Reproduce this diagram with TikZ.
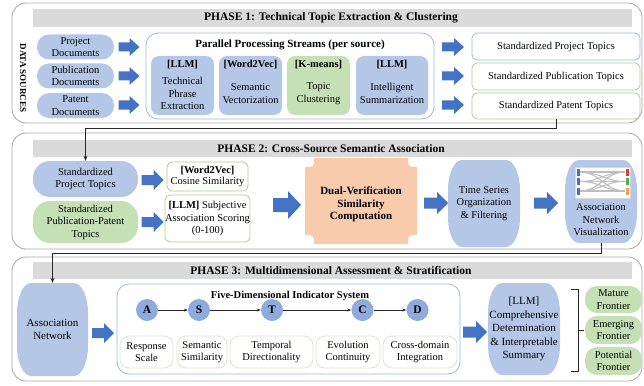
\documentclass[tikz,border=0pt]{standalone}
\usepackage{fontspec}
\setmainfont{Liberation Serif}
\usetikzlibrary{arrows.meta}

\definecolor{boxblue}{HTML}{B4C7E7}
\definecolor{boxgreen}{HTML}{C5E0B4}
\definecolor{boxorange}{HTML}{F8CBAD}
\definecolor{arrowblue}{HTML}{4472C4}
\definecolor{circblue}{HTML}{8FAADC}
\definecolor{hdrgray}{HTML}{DADADA}
\definecolor{framegray}{HTML}{A6A6A6}
\definecolor{lineblue}{HTML}{9DB5DF}
\definecolor{linegreen}{HTML}{A9D18E}
\definecolor{palegreen}{HTML}{D6E8CC}
\definecolor{barred}{HTML}{E03C3C}
\definecolor{bargreen}{HTML}{4CB050}
\definecolor{barorange}{HTML}{F0A050}

% thick block arrow: centre x, centre y, length, shaft half-height, head half-height, head length
\newcommand\blockarrow[6]{%
  \fill[arrowblue] ({#1-#3/2},{#2-#4}) -- ({#1+#3/2-#6},{#2-#4}) -- ({#1+#3/2-#6},{#2-#5})
    -- ({#1+#3/2},#2) -- ({#1+#3/2-#6},{#2+#5}) -- ({#1+#3/2-#6},{#2+#4})
    -- ({#1-#3/2},{#2+#4}) -- cycle;}

% barrel-shaped panel with elliptical corners: x1, y1, x2, y2
\newcommand\barrel[4]{%
  \fill[boxblue] ({#1+14},#2) -- ({#3-14},#2)
    .. controls ({#3-6.3},#2) and (#3,{#2+13.4}) .. (#3,{#2+30})
    -- (#3,{#4-30}) .. controls (#3,{#4-13.4}) and ({#3-6.3},#4) .. ({#3-14},#4)
    -- ({#1+14},#4) .. controls ({#1+6.3},#4) and (#1,{#4-13.4}) .. (#1,{#4-30})
    -- (#1,{#2+30}) .. controls (#1,{#2+13.4}) and ({#1+6.3},#2) .. ({#1+14},#2) -- cycle;}

\tikzset{
  phase/.style={draw=framegray, line width=0.8pt, rounded corners=14pt},
  ptitle/.style={font=\fontsize{11.5}{13}\selectfont\bfseries, inner sep=0pt},
  txt/.style={font=\fontsize{10.5}{12.5}\selectfont, align=center, inner sep=1pt},
  btxt/.style={font=\fontsize{10.5}{12.5}\selectfont\bfseries, align=center, inner sep=1pt},
  pill/.style={txt, fill=boxblue, rounded corners=12pt},
  procbox/.style={rounded corners=8pt, minimum width=63pt, minimum height=59pt, inner sep=0pt},
  stdbox/.style={txt, fill=white, rounded corners=5pt, line width=0.8pt, minimum width=168pt},
  drum/.style={txt, inner sep=0pt},
  whitebox/.style={txt, fill=white, draw=linegreen, line width=0.8pt, rounded corners=5pt, inner sep=0pt},
  circ/.style={circle, fill=circblue, minimum size=22pt, inner sep=0pt, font=\fontsize{11.5}{13}\selectfont\bfseries},
  lbl/.style={txt, draw=palegreen, line width=0.8pt, rounded corners=9pt, minimum height=32pt, inner sep=0pt},
  fpill/.style={txt, fill=boxgreen, rounded corners=12pt, minimum width=57pt, inner sep=0pt},
  conn/.style={draw=black!85, line width=0.8pt, -{Stealth[length=5pt,width=4pt]}},
  dimlink/.style={draw=black!85, line width=0.6pt, -{Stealth[length=4pt,width=3pt]}},
}

\begin{document}
\begin{tikzpicture}[x=1pt,y=-1pt]
\useasboundingbox (0,0) rectangle (644,385);

% ---------------- Phase 1 ----------------
\draw[phase] (12,3) rectangle (642,123);
\fill[hdrgray] (33,9) rectangle (632,27);
\node[ptitle] (t1) at (331,18) {PHASE 1: Technical Topic Extraction \& Clustering};
\node[font=\fontsize{9}{11}\selectfont\bfseries, rotate=-90, inner sep=0pt] (ds) at (23,78) {DATA SOURCES};

\node[pill, minimum width=77pt, minimum height=25pt] (srcP) at (75.5,47) {Project\\Documents};
\node[pill, minimum width=77pt, minimum height=25pt] (srcU) at (75.5,76) {Publication\\Documents};
\node[pill, minimum width=77pt, minimum height=25pt] (srcT) at (75.5,105.5) {Patent\\Documents};

\blockarrow{129}{47}{21}{4.5}{9}{10}
\blockarrow{129}{76}{21}{4.5}{9}{10}
\blockarrow{129}{105}{21}{4.5}{9}{10}

\node[draw=lineblue, line width=0.8pt, rounded corners=12pt, minimum width=288pt, minimum height=86pt, inner sep=0pt] (par) at (290,76) {};
\node[font=\fontsize{11}{13}\selectfont\bfseries, inner sep=0pt] (partitle) at (290,45) {Parallel Processing Streams (per source)};

\node[procbox, fill=boxblue] (pr1) at (182.5,85.5) {};
\node[procbox, fill=boxblue] (pr2) at (250.5,85.5) {};
\node[procbox, fill=boxgreen] (pr3) at (318.5,85.5) {};
\node[procbox, fill=boxblue, minimum width=72pt] (pr4) at (392,85.5) {};
\node[btxt] (pr1h) at (182.5,65) {[LLM]};
\node[btxt] (pr2h) at (250.5,65) {[Word2Vec]};
\node[btxt] (pr3h) at (318.5,65) {[K-means]};
\node[btxt] (pr4h) at (392,65) {[LLM]};
\node[txt] (pr1b) at (182.5,93.5) {Technical\\Phrase\\Extraction};
\node[txt] (pr2b) at (250.5,93.5) {Semantic\\Vectorization};
\node[txt] (pr3b) at (318.5,93.5) {Topic\\Clustering};
\node[txt] (pr4b) at (392,93.5) {Intelligent\\Summarization};

\blockarrow{453}{47}{22}{4.5}{9}{10}
\blockarrow{453}{76}{22}{4.5}{9}{10}
\blockarrow{453}{105}{22}{4.5}{9}{10}

\node[stdbox, draw=lineblue, minimum height=27pt] (std1) at (556,46.5) {Standardized Project Topics};
\node[stdbox, draw=linegreen, minimum height=27pt] (std2) at (556,76.5) {Standardized Publication Topics};
\node[stdbox, draw=linegreen, minimum height=26pt] (std3) at (556,106) {Standardized Patent Topics};

% ---------------- Phase 2 ----------------
\draw[phase] (12,133) rectangle (642,249);
\fill[hdrgray] (33,140) rectangle (632,157);
\node[ptitle] (t2) at (331,148.5) {PHASE 2: Cross-Source Semantic Association};

\node[pill, rounded corners=17pt, minimum width=105pt, minimum height=36pt] (sp) at (85.5,179) {Standardized\\Project Topics};
\node[pill, fill=boxgreen, rounded corners=17pt, minimum width=105pt, minimum height=42pt] (spp) at (85.5,222) {Standardized\\Publication-Patent\\Topics};

\blockarrow{152.5}{180}{22}{5}{10}{10}
\blockarrow{152.5}{222}{22}{5}{10}{10}

\node[whitebox, minimum width=81pt, minimum height=29pt, font=\fontsize{10.5}{11.5}\selectfont] (w2v) at (207.5,176.5) {\textbf{[Word2Vec]}\\Cosine Similarity};
\node[whitebox, minimum width=81pt, minimum height=47pt] (llms) at (207.5,218.5) {\textbf{[LLM]} Subjective\\Association Scoring\\(0-100)};

\blockarrow{287}{205}{28}{7}{14}{13}

\fill[boxorange] (314,158) -- (408,158) .. controls (408,167) .. (417,167) -- (417,235)
  .. controls (408,235) .. (408,244) -- (314,244) .. controls (314,235) .. (305,235)
  -- (305,167) .. controls (314,167) .. (314,158) -- cycle;
\node[font=\fontsize{11}{12.5}\selectfont\bfseries, align=center, inner sep=0pt] (dual) at (361,204.5) {Dual-Verification\\Similarity\\Computation};

\blockarrow{436}{203}{24}{5.5}{11}{11}

\barrel{448}{160}{520}{247}
\node[drum, minimum width=72pt, minimum height=87pt] (ts) at (484,203.5) {Time Series\\Organization\\\& Filtering};

\blockarrow{546}{203}{24}{5.5}{11}{11}

\barrel{565}{160}{637}{243}
\node[drum, minimum width=72pt, minimum height=83pt] (anv) at (601,201.5) {};
% small flow-chart glyph
\draw[black!15, fill=white] (575,167) rectangle (630,198);
\foreach \a in {172,181.5,191}
  \foreach \b in {172,181.5,191}
    \draw[black!25, line width=1.1pt] (580,\a) .. controls (600,\a) and (605,\b) .. (625,\b);
\fill[arrowblue] (576.5,168.5) rectangle (579.5,175.5);
\fill[arrowblue] (576.5,178) rectangle (579.5,185);
\fill[arrowblue] (576.5,187.5) rectangle (579.5,194.5);
\fill[barred] (625.5,168.5) rectangle (628.5,175.5);
\fill[bargreen] (625.5,178) rectangle (628.5,185);
\fill[barorange] (625.5,187.5) rectangle (628.5,194.5);
\node[txt] (anvtext) at (601,220) {Association\\Network\\Visualization};

% ---------------- Phase 3 ----------------
\draw[phase] (12,257) rectangle (642,381);
\fill[hdrgray] (33,262) rectangle (632,279);
\node[ptitle] (t3) at (331,270.5) {PHASE 3: Multidimensional Assessment \& Stratification};

\barrel{17}{283}{88}{376}
\node[drum, minimum width=71pt, minimum height=93pt, font=\fontsize{11}{13}\selectfont] (an) at (52.5,329.5) {Association\\Network};

\blockarrow{103}{333}{22}{5}{10}{10}

\node[draw=lineblue, line width=0.8pt, rounded corners=12pt, minimum width=343pt, minimum height=90pt, inner sep=0pt] (fd) at (288.5,329) {};
\node[font=\fontsize{10.5}{12}\selectfont\bfseries, inner sep=0pt] (fdtitle) at (290,296) {Five-Dimensional Indicator System};

\node[circ] (cA) at (147,310) {A};
\node[circ] (cS) at (199,310) {S};
\node[circ] (cT) at (272,310) {T};
\node[circ] (cC) at (362.5,310) {C};
\node[circ] (cD) at (417.5,310) {D};
\draw[dimlink] (cA) -- (cS);
\draw[dimlink] (cS) -- (cT);
\draw[dimlink] (cT) -- (cC);
\draw[dimlink] (cC) -- (cD);

\node[lbl, minimum width=53pt] (lA) at (146.5,352) {Response\\Scale};
\node[lbl, minimum width=50pt] (lS) at (202,352) {Semantic\\Similarity};
\node[lbl, minimum width=83pt] (lT) at (271.5,352) {Temporal\\Directionality};
\node[lbl, minimum width=64pt] (lC) at (348,352) {Evolution\\Continuity};
\node[lbl, minimum width=74pt] (lD) at (420,352) {Cross-domain\\Integration};

\blockarrow{475}{332}{24}{5.5}{11}{11}

\barrel{488}{283}{560}{375}
\node[drum, minimum width=72pt, minimum height=92pt, font=\fontsize{11}{13.5}\selectfont] (llmc) at (524,329) {[LLM]\\Comprehensive\\Determination\\\& Interpretable\\Summary};

% grouping bracket
\draw[black!85, line width=0.7pt] (571,289) -- (578,289) -- (578,371) -- (571,371);
\draw[black!85, line width=0.7pt] (578,330) -- (584,330);

\node[fpill, minimum height=27pt] (fM) at (613.5,299.5) {Mature\\Frontier};
\node[fpill, minimum height=28pt] (fE) at (613.5,330) {Emerging\\Frontier};
\node[fpill, minimum height=28pt] (fP) at (613.5,361) {Potential\\Frontier};

% ---------------- phase links ----------------
\draw[conn] (std3.south) -- ++(0,9) -| (sp.north);
\draw[conn] (anv.south) -- ++(0,10) -| (an.north);
\end{tikzpicture}
\end{document}
